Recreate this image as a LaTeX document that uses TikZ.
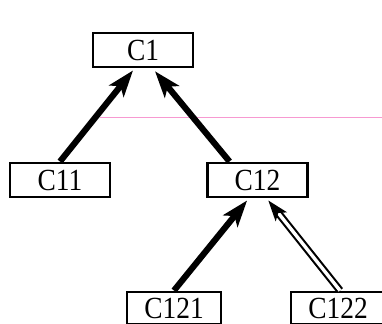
\documentclass[tikz,border=0pt]{standalone}
\usepackage{fontspec}
\setmainfont{Liberation Serif}
\usepackage{tikz}
\usetikzlibrary{arrows.meta,positioning,calc}

\newcommand{\tall}[1]{\scalebox{1}[1.12]{#1}}

\begin{document}
\begin{tikzpicture}[x=0.025cm, y=-0.025cm,
    cbox/.style={draw, line width=2.1pt, inner sep=0pt, minimum height=0.85cm,
      font=\fontsize{19.5}{22}\selectfont},
    link/.style={line width=4.4pt,
      -{Stealth[length=0.66cm, width=0.46cm, inset=0.16cm]}},
    dlink/.style={double, line width=1.5pt, double distance=2.4pt,
      -{Stealth[length=0.52cm, width=0.36cm, inset=0.12cm]}}]
    \clip (0,0) rectangle (382,323);
    % scan mark
    \draw[magenta!40, line width=0.7pt] (100,117) -- (382,117);
    % classes
    \node[cbox, minimum width=2.5cm] (c1) at (143,50) {\tall{C1}};
    \node[cbox, minimum width=2.5cm] (c11) at (60,180) {\tall{C11}};
    \node[cbox, minimum width=2.5cm] (c12) at (257.5,180) {\tall{C12}};
    \node[cbox, minimum width=2.35cm, minimum height=0.8cm] (c121) at (174,308) {\tall{C121}};
    \node[cbox, minimum width=2.35cm, minimum height=0.8cm] (c122) at (338,308) {\tall{C122}};
    % inheritance links
    \draw[link] (c11.north) -- ([xshift=-0.25cm, yshift=-0.05cm]c1.south);
    \draw[link] ([xshift=-0.7cm]c12.north) -- ([xshift=0.3cm, yshift=-0.07cm]c1.south);
    \draw[link] (c121.north) -- ([xshift=-0.26cm, yshift=-0.05cm]c12.south);
    \draw[dlink] ([xshift=0.05cm]c122.north) -- ([xshift=0.27cm, yshift=-0.05cm]c12.south);
  \end{tikzpicture}
\end{document}
